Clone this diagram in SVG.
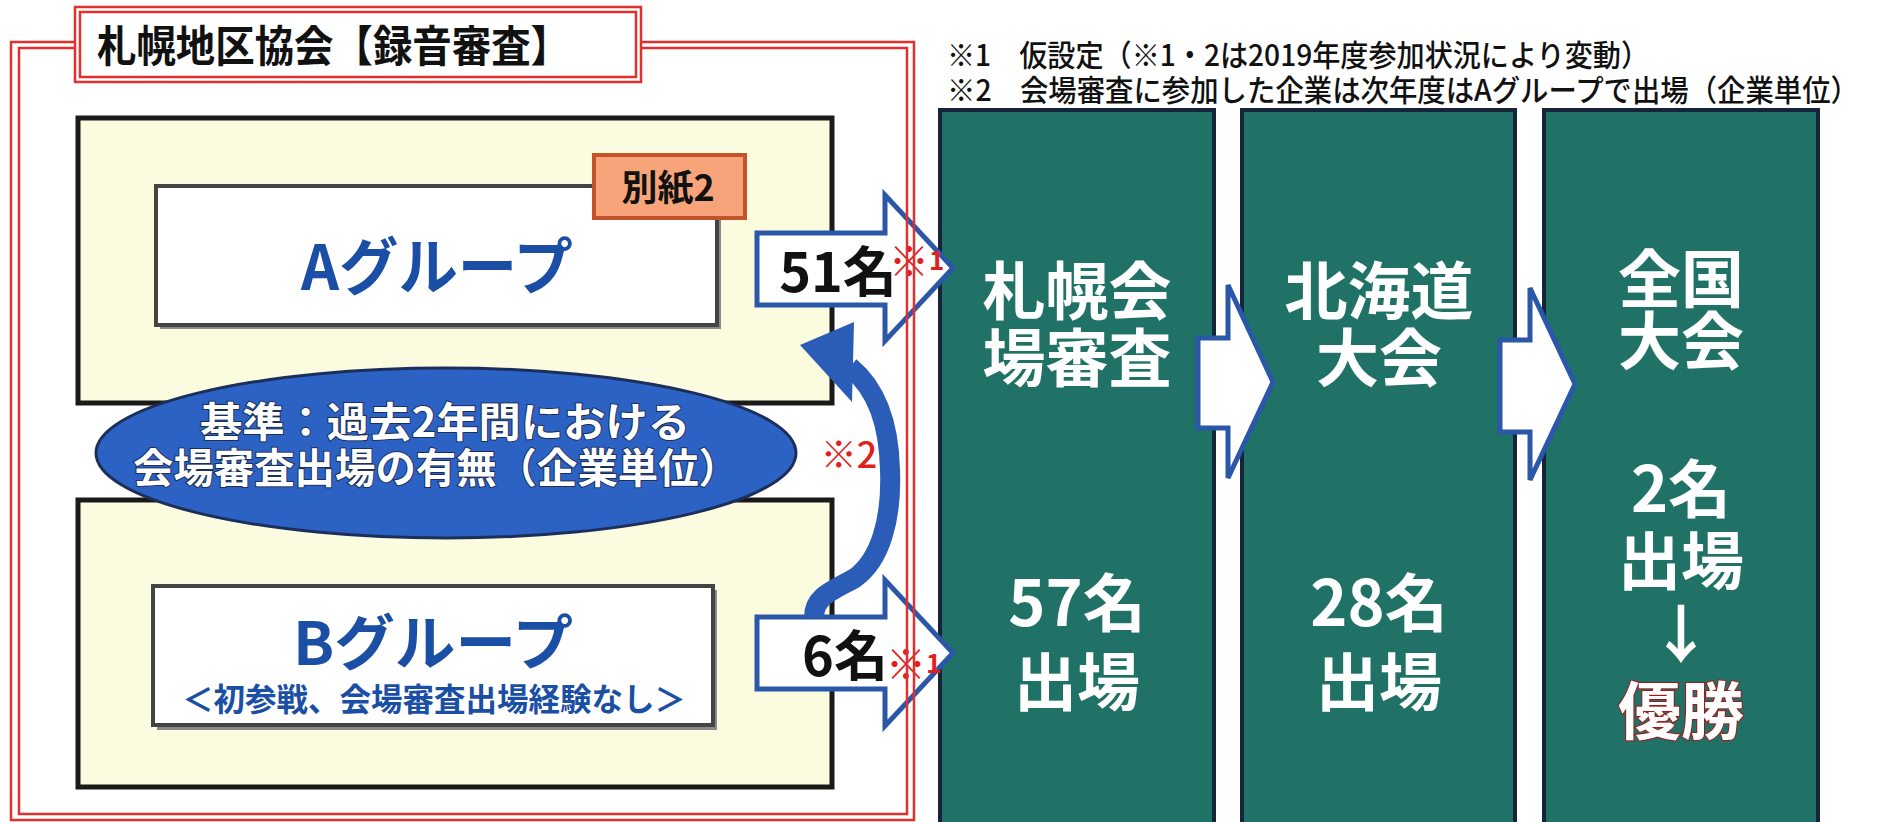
<svg xmlns="http://www.w3.org/2000/svg" width="1881" height="822" viewBox="0 0 1881 822">
<defs>
<style>
.jp{font-family:"Noto Sans CJK JP","Noto Sans",sans-serif;font-weight:700}
.col{fill:#217266;stroke:#16243a;stroke-width:4}
.colt{fill:#ffffff;font-size:63px;text-anchor:middle}
.outer{fill:#fbfbe0;stroke:#1a1a1a;stroke-width:5}
.inner{fill:#ffffff;stroke:#444444;stroke-width:4}
.shadow{fill:#8a8a8a}
.blk{fill:#ffffff;stroke:#2b57a8;stroke-width:5;stroke-linejoin:miter}
.red{fill:none;stroke:#e2302f;stroke-width:2.5}
.grp{fill:#1a4fa5;text-anchor:middle}
.note{fill:#111111;font-size:30px}
.mark{fill:#e0201c}
</style>
</defs>
<rect width="1881" height="822" fill="#ffffff"/>

<g id="col-sapporo">
<rect class="col" x="940" y="110" width="274" height="720"/>
<text class="jp colt" x="1077" y="314">札幌会</text>
<text class="jp colt" x="1077" y="381">場審査</text>
<text class="jp colt" x="1077" y="626">57名</text>
<text class="jp colt" x="1077" y="705">出場</text>
</g>
<g id="col-hokkaido">
<rect class="col" x="1242" y="110" width="273" height="720"/>
<text class="jp colt" x="1379" y="314">北海道</text>
<text class="jp colt" x="1379" y="381">大会</text>
<text class="jp colt" x="1379" y="626">28名</text>
<text class="jp colt" x="1379" y="705">出場</text>
</g>
<g id="col-zenkoku">
<rect class="col" x="1544" y="110" width="274" height="720"/>
<text class="jp colt" x="1681" y="302">全国</text>
<text class="jp colt" x="1681" y="364">大会</text>
<text class="jp colt" x="1681" y="512">2名</text>
<text class="jp colt" x="1681" y="584">出場</text>
<text class="jp colt" x="1681" y="657">↓</text>
<text class="jp colt" x="1681" y="734" style="stroke:#a01818;stroke-width:2;paint-order:stroke">優勝</text>
</g>

<g id="group-a">
<rect class="outer" x="78" y="118" width="754" height="285"/>
<rect class="shadow" x="160" y="190" width="561" height="139"/>
<rect class="inner" x="156" y="186" width="561" height="139"/>
<text class="jp grp" x="437" y="290" font-size="62" textLength="272" lengthAdjust="spacingAndGlyphs">Aグループ</text>
</g>
<g id="bessi2">
<rect x="594" y="155" width="151" height="63" fill="#f7a47a" stroke="#c4532b" stroke-width="4"/>
<text class="jp" x="668" y="201" font-size="36" text-anchor="middle" fill="#111111">別紙2</text>
</g>

<g id="group-b">
<rect class="outer" x="78" y="500" width="754" height="287"/>
<rect class="shadow" x="157" y="590" width="560" height="140"/>
<rect class="inner" x="153" y="586" width="560" height="139"/>
<text class="jp grp" x="433" y="665" font-size="60" textLength="280" lengthAdjust="spacingAndGlyphs">Bグループ</text>
<text class="jp grp" x="434" y="711" font-size="32" textLength="504" lengthAdjust="spacingAndGlyphs">＜初参戦、会場審査出場経験なし＞</text>
</g>

<g id="criteria">
<ellipse cx="446" cy="453" rx="350" ry="85" fill="#2c62c4" stroke="#1c2f5a" stroke-width="3"/>
<text class="jp" x="445" y="437" font-size="41" fill="#ffffff" stroke="#1c2f5a" stroke-width="2" paint-order="stroke" text-anchor="middle" textLength="490" lengthAdjust="spacingAndGlyphs">基準：過去2年間における</text>
<text class="jp" x="436" y="483" font-size="41" fill="#ffffff" stroke="#1c2f5a" stroke-width="2" paint-order="stroke" text-anchor="middle" textLength="606" lengthAdjust="spacingAndGlyphs">会場審査出場の有無（企業単位）</text>
</g>

<g id="connectors">
<path class="blk" d="M757,233 H885 V195 L953,268 L885,341 V305 H757 Z"/>
<path class="blk" d="M757,617 H885 V580 L953,653 L885,726 V689 H757 Z"/>
<path class="blk" d="M1198,338 H1228 V285 L1273,382 L1228,478 V428 H1198 Z"/>
<path class="blk" d="M1500,340 H1530 V288 L1575,384 L1530,480 V432 H1500 Z"/>
<path d="M814,617 C814,596 834,590 855,578 C880,560 892,520 890,470 C889,425 878,390 850,367" fill="none" stroke="#2a5cb8" stroke-width="20"/>
<polygon points="800,345 854,322 852,402" fill="#2a5cb8"/>
</g>

<g id="labels">
<text class="jp" x="838" y="292" font-size="54" text-anchor="middle" fill="#111111">51名</text>
<text class="jp mark" x="889" y="276" font-size="40">※<tspan font-size="26" dy="-6">1</tspan></text>
<text class="jp" x="845" y="676" font-size="54" text-anchor="middle" fill="#111111">6名</text>
<text class="jp mark" x="886" y="679" font-size="40">※<tspan font-size="26" dy="-6">1</tspan></text>
<text class="jp mark" x="849" y="468" font-size="36" text-anchor="middle" style="font-weight:500">※2</text>
</g>

<g id="frame">
<rect class="red" x="11" y="42" width="903" height="778"/>
<rect class="red" x="19" y="48" width="888" height="766"/>
</g>

<g id="title">
<rect x="75" y="7" width="566" height="75" fill="#ffffff" stroke="#e2302f" stroke-width="2.5"/>
<rect x="80" y="12" width="556" height="65" fill="#ffffff" stroke="#e2302f" stroke-width="2.5"/>
<text class="jp" x="97" y="62" font-size="43" fill="#111111" textLength="473" lengthAdjust="spacingAndGlyphs">札幌地区協会【録音審査】</text>
</g>

<g id="notes">
<text class="jp note" x="947" y="66" style="font-weight:500" textLength="702" lengthAdjust="spacingAndGlyphs">※1　仮設定（※1・2は2019年度参加状況により変動）</text>
<text class="jp note" x="947" y="101" style="font-weight:500" textLength="912" lengthAdjust="spacingAndGlyphs">※2　会場審査に参加した企業は次年度はAグループで出場（企業単位）</text>
</g>
</svg>
